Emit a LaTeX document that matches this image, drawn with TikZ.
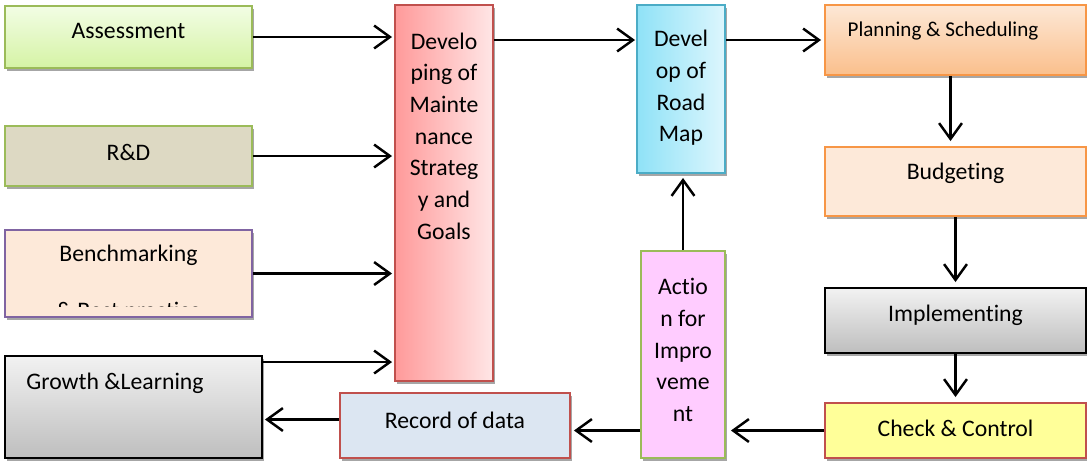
\documentclass[tikz,border=0pt]{standalone}
\usepackage{fontspec}
\setmainfont{Carlito}[Ligatures=NoCommon]
\usetikzlibrary{arrows.meta,shadows}
\newdimen\px \px=0.02cm
\definecolor{greenline}{HTML}{9BBB59}
\definecolor{redline}{HTML}{C0504D}
\definecolor{purpleline}{HTML}{8064A2}
\definecolor{orangeline}{HTML}{F79646}
\definecolor{blueline}{HTML}{4BACC6}
\definecolor{assesstop}{HTML}{F2FDE4}
\definecolor{assessbot}{HTML}{D5F3A5}
\definecolor{rndfill}{HTML}{DDD9C3}
\definecolor{peach}{HTML}{FDE9D9}
\definecolor{graytop}{HTML}{F2F2F2}
\definecolor{graybot}{HTML}{BEBEBE}
\definecolor{devleft}{HTML}{FF9A9A}
\definecolor{devright}{HTML}{FFE6E6}
\definecolor{mapleft}{HTML}{8FE2F7}
\definecolor{mapright}{HTML}{DDF6FD}
\definecolor{actfill}{HTML}{FFCCFF}
\definecolor{recfill}{HTML}{DCE6F2}
\definecolor{plantop}{HTML}{FDE8D6}
\definecolor{planbot}{HTML}{FABF8C}
\definecolor{chkfill}{HTML}{FFFF99}
\tikzset{
	box/.style={draw, line width=1.1pt, inner sep=0pt,
			drop shadow={shadow xshift=2\px, shadow yshift=-3\px, fill=black!35, opacity=1}},
	every label/.style={align=center},
	link/.style={line width=1.4pt, -{Straight Barb[length=9pt,width=13pt]}}
}

\begin{document}
\begin{tikzpicture}[x=0.02cm, y=-0.02cm, font=\fontsize{13.5}{18}\selectfont]
	\useasboundingbox (0,0) rectangle (1087,461);
	\node[box, draw=greenline, top color=assesstop, bottom color=assessbot, minimum width=247\px, minimum height=62\px,
		label={[yshift=6\px]center:Assessment}] (assess) at (128.5,37) {};
	\node[box, draw=greenline, fill=rndfill, minimum width=247\px, minimum height=60\px,
		label={[yshift=4\px]center:R\&D}] (rnd) at (128.5,156) {};
	\node[box, draw=purpleline, fill=peach, minimum width=247\px, minimum height=87\px,
		label={[yshift=18.5\px]center:Benchmarking}] (bench) at (128.5,273.5) {};
	\begin{scope}
		\clip ([yshift=11\px]bench.south west) rectangle (bench.north east);
		\node[anchor=north, inner sep=0pt] (benchrest) at ([yshift=16\px]bench.south) {\& Best practice};
	\end{scope}
	\node[box, draw=black, top color=graytop, bottom color=graybot, minimum width=257\px, minimum height=102\px,
		label={[xshift=-18.5\px, yshift=24\px]center:Growth \&Learning}] (growth) at (133.5,407) {};
	\node[box, draw=redline, left color=devleft, right color=devright, minimum width=98\px, minimum height=376\px,
		label={[yshift=57\px]center:Develo\\ping of\\Mainte\\nance\\Strateg\\y and\\Goals}] (devstrat) at (444,193) {};
	\node[box, draw=blueline, left color=mapleft, right color=mapright, minimum width=88\px, minimum height=168\px,
		label={[yshift=1\px]center:Devel\\op of\\Road\\Map}] (roadmap) at (681,89) {};
	\node[box, draw=greenline, fill=actfill, minimum width=84\px, minimum height=207\px,
		label={[yshift=4.5\px]center:Actio\\n for\\Impro\\veme\\nt}] (action) at (683,354.5) {};
	\node[box, draw=redline, fill=recfill, minimum width=230\px, minimum height=65\px,
		label={[yshift=5.5\px]center:Record of data}] (record) at (455,425.5) {};
	\node[box, draw=orangeline, top color=plantop, bottom color=planbot, minimum width=261\px, minimum height=70\px,
		label={[xshift=-12.5\px, yshift=9\px, font=\fontsize{12}{15}\selectfont]center:Planning \& Scheduling}] (plan) at (955.5,40) {};
	\node[box, draw=orangeline, fill=peach, minimum width=261\px, minimum height=69\px,
		label={[yshift=8.5\px]center:Budgeting}] (budget) at (955.5,181.5) {};
	\node[box, draw=black, top color=graytop, bottom color=graybot, minimum width=261\px, minimum height=65\px,
		label={[yshift=5.5\px]center:Implementing}] (impl) at (955.5,320.5) {};
	\node[box, draw=redline, fill=chkfill, minimum width=261\px, minimum height=55\px,
		label={[yshift=2.5\px]center:Check \& Control}] (check) at (955.5,430.5) {};

	\coordinate (gout) at ([yshift=-7\px]growth.north east);
	\coordinate (rout) at ([yshift=6\px]record.west);
	\coordinate (pout) at ([xshift=-5\px]plan.south);
	\draw[link, shorten >=2\px] (assess.east) -- (assess.east -| devstrat.west);
	\draw[link, shorten >=2\px] (rnd.east) -- (rnd.east -| devstrat.west);
	\draw[link, shorten >=2\px] (bench.east) -- (bench.east -| devstrat.west);
	\draw[link, shorten >=2\px] (gout) -- (gout -| devstrat.west);
	\draw[link, shorten >=1\px] (devstrat.east |- plan.west) -- (roadmap.west |- plan.west);
	\draw[link, shorten >=3\px] (roadmap.east |- plan.west) -- (plan.west);
	\draw[link, shorten >=5\px] (pout) -- (pout |- budget.north);
	\draw[link, shorten >=5\px] (budget.south) -- (impl.north);
	\draw[link, shorten >=5\px] (impl.south) -- (check.north);
	\draw[link, shorten >=5\px] (check.west) -- (check.west -| action.east);
	\draw[link, shorten >=4\px] (action.north) -- (action.north |- roadmap.south);
	\draw[link, shorten >=3\px] (action.west |- check.west) -- (record.east |- check.west);
	\draw[link, shorten >=2\px] (rout) -- (rout -| growth.east);
\end{tikzpicture}
\end{document}
